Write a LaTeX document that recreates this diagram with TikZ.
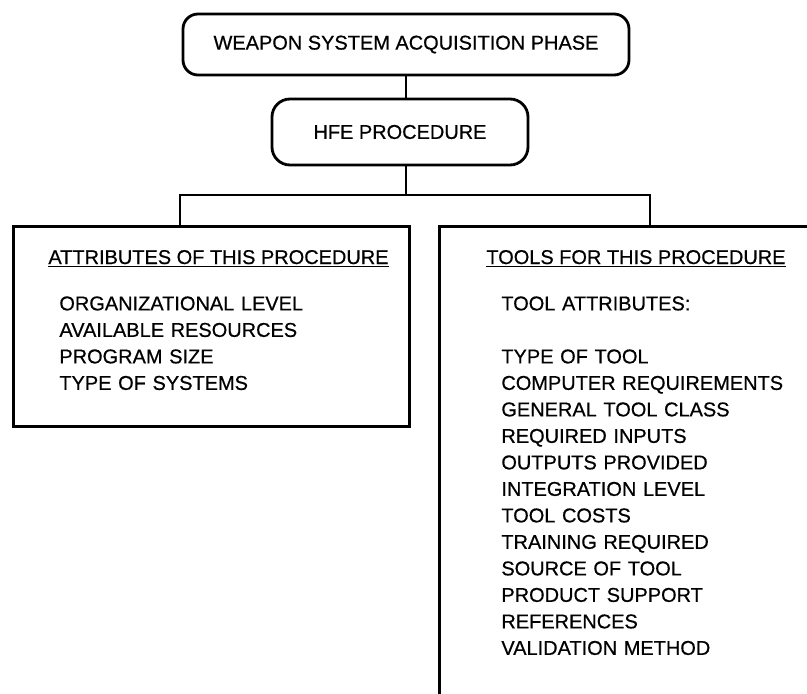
\documentclass[tikz,border=0pt]{standalone}
\usepackage{fontspec}
\setmainfont{Liberation Sans}[UprightFeatures={FakeBold=0.6}]
\usetikzlibrary{positioning,calc}

\tikzset{
  phase/.style={draw, rounded corners=0.375cm, align=center},
  listbox/.style={draw, anchor=north west, inner sep=0pt},
  head/.style={anchor=base west, inner sep=0pt},
  items/.style={anchor=north west, inner sep=0pt, align=left, text width=8cm}
}

\begin{document}
\begin{tikzpicture}[line width=2pt, every node/.style={font=\fontsize{14.2}{18.85}\selectfont}]
  \useasboundingbox (0,0) rectangle (20.175,-17.35);
  \clip (0,0) rectangle (20.175,-17.35);

  % the two phase boxes
  \node[phase, minimum width=11.15cm, minimum height=1.525cm] (wsap) at (10.15,-1.1125) {WEAPON SYSTEM ACQUISITION PHASE};
  \node[phase, rounded corners=0.45cm, minimum width=6.4cm, minimum height=1.65cm] (hfe) at (10.0,-3.3) {HFE PROCEDURE};

  % lower boxes (the right one runs off the page)
  \node[listbox, minimum width=9.9cm, minimum height=5cm] (attr) at (0.3,-5.625) {};
  \node[listbox, minimum width=10cm, minimum height=13cm] (tools) at (10.95,-5.625) {};

  \node[head] (attrhead) at ($(attr.north west)+(0.875,-0.975)$) {\underline{ATTRIBUTES OF THIS PROCEDURE}};
  \node[items] (attrlist) at ($(attr.north west)+(1.15,-1.75)$) {ORGANIZATIONAL LEVEL\\AVAILABLE RESOURCES\\PROGRAM SIZE\\TYPE OF SYSTEMS};

  \node[head] (toolshead) at ($(tools.north west)+(1.175,-0.975)$) {\underline{TOOLS FOR THIS PROCEDURE}};
  \node[items] (toolslist) at ($(tools.north west)+(1.55,-1.75)$) {TOOL ATTRIBUTES:\\[18.85pt]TYPE OF TOOL\\COMPUTER REQUIREMENTS\\GENERAL TOOL CLASS\\REQUIRED INPUTS\\OUTPUTS PROVIDED\\INTEGRATION LEVEL\\TOOL COSTS\\TRAINING REQUIRED\\SOURCE OF TOOL\\PRODUCT SUPPORT\\REFERENCES\\VALIDATION METHOD};

  % connectors
  \coordinate (busL) at (4.5,-4.875);
  \coordinate (busR) at (16.25,-4.875);
  \draw (wsap.south) -- (wsap.south |- hfe.north);
  \draw (wsap.south |- hfe.south) -- (wsap.south |- busL);
  \draw (busL |- attr.north) -- (busL) -- (busR) -- (busR |- tools.north);
\end{tikzpicture}
\end{document}
